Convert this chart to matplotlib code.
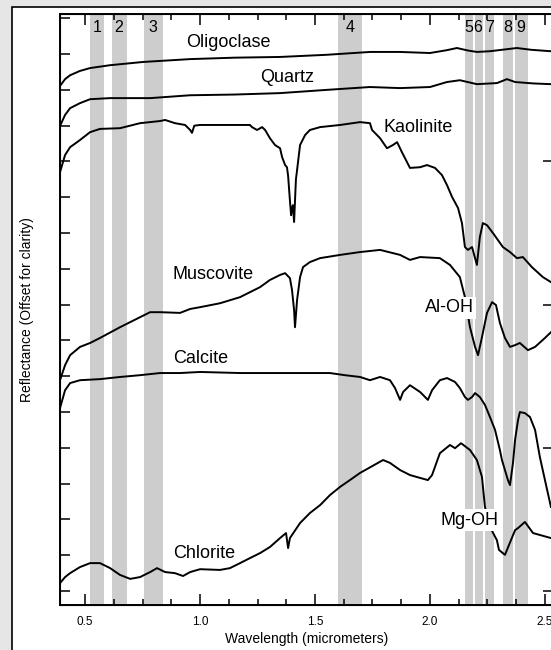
import matplotlib.pyplot as plt
from matplotlib.patches import Rectangle
from matplotlib.ticker import MultipleLocator

plt.rcParams['font.family'] = ['Liberation Sans', 'DejaVu Sans']

# band limits (micrometers) and their labels
band_lo = [0.522, 0.617, 0.757, 1.600, 2.152, 2.196, 2.239, 2.319, 2.370]
band_hi = [0.583, 0.683, 0.839, 1.704, 2.188, 2.232, 2.280, 2.362, 2.427]
band_txt = ['1', '2', '3', '4', '5', '6', '7', '8', '9']
band_txt_x = [0.552, 0.648, 0.796, 1.652, 2.170, 2.209, 2.261, 2.339, 2.396]

# spectra, offset for clarity
olig_wl = [0.391, 0.413, 0.435, 0.478, 0.522, 0.609, 0.752, 0.957, 1.15, 1.348, 1.55, 1.739,
           1.87, 2.0, 2.074, 2.117, 2.165, 2.204, 2.26, 2.3, 2.378, 2.44, 2.526]
olig_y = [14.11, 14.30, 14.41, 14.53, 14.61, 14.69, 14.78, 14.86, 14.90, 14.92, 14.98, 15.06,
          15.06, 15.03, 15.11, 15.17, 15.10, 15.06, 15.08, 15.11, 15.17, 15.12, 15.08]

qtz_wl = [0.391, 0.413, 0.435, 0.478, 0.522, 0.609, 0.783, 0.957, 1.15, 1.348, 1.55, 1.739,
          1.87, 2.0, 2.074, 2.13, 2.204, 2.291, 2.335, 2.37, 2.45, 2.526]
qtz_y = [12.99, 13.30, 13.49, 13.63, 13.74, 13.77, 13.77, 13.85, 13.87, 13.91, 14.0, 14.08,
         14.05, 14.08, 14.22, 14.27, 14.16, 14.19, 14.30, 14.22, 14.18, 14.16]

kao_wl = [0.391, 0.413, 0.435, 0.478, 0.522, 0.565, 0.652, 0.739, 0.826, 0.848, 0.891, 0.935,
          0.957, 0.965, 0.975, 1.0, 1.217, 1.226, 1.248, 1.270, 1.283, 1.304, 1.326, 1.348,
          1.357, 1.370, 1.378, 1.383, 1.391, 1.396, 1.400, 1.404, 1.409, 1.413, 1.417, 1.422,
          1.435, 1.457, 1.478, 1.522, 1.609, 1.696, 1.739, 1.748, 1.783, 1.813, 1.839, 1.857,
          1.878, 1.913, 1.957, 1.987, 2.022, 2.052, 2.074, 2.096, 2.122, 2.139, 2.152, 2.165,
          2.183, 2.204, 2.217, 2.230, 2.248, 2.274, 2.317, 2.348, 2.378, 2.404, 2.443, 2.491, 2.526]
kao_y = [11.70, 12.18, 12.40, 12.60, 12.82, 12.91, 12.93, 13.07, 13.13, 13.16, 13.07, 13.02,
         12.88, 12.80, 13.00, 13.02, 13.02, 12.96, 12.88, 12.96, 12.88, 12.65, 12.46, 12.37,
         12.12, 11.90, 11.84, 11.60, 10.90, 10.50, 10.70, 10.78, 10.31, 10.90, 11.50, 11.76,
         12.46, 12.74, 12.88, 12.96, 13.02, 13.10, 13.07, 12.88, 12.65, 12.37, 12.46, 12.54,
         12.26, 11.82, 11.84, 11.90, 11.82, 11.62, 11.34, 11.01, 10.70, 10.28, 9.61, 9.53,
         9.61, 9.11, 9.89, 10.28, 10.22, 10.00, 9.61, 9.47, 9.30, 9.33, 9.05, 8.77, 8.63]

mus_wl = [0.391, 0.413, 0.435, 0.478, 0.522, 0.565, 0.652, 0.739, 0.783, 0.826, 0.913, 0.957,
          1.0, 1.087, 1.174, 1.261, 1.304, 1.348, 1.370, 1.391, 1.400, 1.409, 1.413, 1.422,
          1.435, 1.448, 1.478, 1.522, 1.609, 1.696, 1.783, 1.870, 1.913, 1.957, 2.043, 2.087,
          2.130, 2.152, 2.174, 2.196, 2.209, 2.226, 2.248, 2.270, 2.287, 2.304, 2.326, 2.348,
          2.370, 2.391, 2.426, 2.457, 2.5, 2.526]
mus_y = [5.89, 6.31, 6.59, 6.82, 6.93, 7.07, 7.37, 7.65, 7.79, 7.79, 7.77, 7.88,
         7.93, 8.04, 8.21, 8.49, 8.69, 8.83, 8.88, 8.74, 8.41, 7.85, 7.37, 8.13,
         8.77, 9.05, 9.19, 9.30, 9.39, 9.47, 9.53, 9.39, 9.25, 9.33, 9.30, 9.11,
         8.77, 8.21, 7.37, 6.82, 6.59, 7.09, 7.77, 8.07, 7.99, 7.49, 7.07, 6.82,
         6.87, 6.93, 6.73, 6.82, 7.07, 7.23]

cal_wl = [0.391, 0.413, 0.435, 0.478, 0.565, 0.652, 0.739, 0.826, 0.913, 1.0, 1.174, 1.435,
          1.565, 1.630, 1.696, 1.739, 1.783, 1.826, 1.848, 1.870, 1.883, 1.913, 1.957, 1.991,
          2.009, 2.043, 2.074, 2.109, 2.130, 2.152, 2.165, 2.183, 2.196, 2.217, 2.239, 2.261,
          2.283, 2.304, 2.313, 2.326, 2.339, 2.348, 2.361, 2.370, 2.383, 2.391, 2.413, 2.435,
          2.457, 2.478, 2.5, 2.526]
cal_y = [5.11, 5.61, 5.81, 5.89, 5.92, 5.98, 6.03, 6.09, 6.09, 6.12, 6.09, 6.09,
         6.09, 6.03, 5.98, 5.89, 5.98, 5.89, 5.67, 5.34, 5.56, 5.75, 5.56, 5.34,
         5.61, 5.89, 5.95, 5.84, 5.67, 5.42, 5.34, 5.42, 5.53, 5.42, 5.20, 4.86,
         4.50, 3.94, 3.66, 3.38, 3.10, 2.96, 3.58, 4.22, 4.78, 5.00, 4.97, 4.86,
         4.50, 3.74, 3.10, 2.35]

chl_wl = [0.391, 0.413, 0.435, 0.478, 0.522, 0.565, 0.609, 0.652, 0.696, 0.739, 0.783, 0.813,
          0.848, 0.891, 0.926, 0.957, 1.0, 1.087, 1.130, 1.174, 1.217, 1.261, 1.304, 1.348,
          1.374, 1.383, 1.391, 1.435, 1.478, 1.522, 1.565, 1.609, 1.652, 1.696, 1.735, 1.796,
          1.826, 1.870, 1.913, 1.957, 1.991, 2.009, 2.043, 2.087, 2.109, 2.135, 2.174, 2.204,
          2.226, 2.239, 2.26, 2.291, 2.300, 2.326, 2.370, 2.383, 2.413, 2.448, 2.526]
chl_y = [0.22, 0.39, 0.50, 0.67, 0.78, 0.78, 0.64, 0.45, 0.34, 0.39, 0.53, 0.64,
         0.53, 0.50, 0.42, 0.53, 0.61, 0.59, 0.64, 0.78, 0.92, 1.06, 1.23, 1.48,
         1.62, 1.20, 1.48, 1.90, 2.18, 2.40, 2.68, 2.91, 3.10, 3.30, 3.44, 3.66,
         3.58, 3.38, 3.24, 3.16, 3.10, 3.24, 3.85, 4.08, 3.99, 4.13, 3.94, 3.66,
         3.19, 2.35, 1.80, 1.42, 1.15, 1.01, 1.70, 1.76, 1.93, 1.62, 1.48]

spectra = [(olig_wl, olig_y), (qtz_wl, qtz_y), (kao_wl, kao_y), (mus_wl, mus_y),
           (cal_wl, cal_y), (chl_wl, chl_y)]

# label text and where it sits (wavelength, offset reflectance)
names = ['Oligoclase', 'Quartz', 'Kaolinite', 'Muscovite', 'Calcite', 'Chlorite']
names_x = [1.122, 1.378, 1.948, 1.057, 1.004, 1.020]
names_y = [15.31, 14.36, 12.96, 8.83, 6.51, 1.06]
feat = ['Al-OH', 'Mg-OH']
feat_x = [2.083, 2.170]
feat_y = [7.91, 1.98]

fig = plt.figure(figsize=(5.51, 6.5), dpi=100, facecolor='#e6e6e6')
# white panel with a black frame, running off the right and bottom edges
panel = Rectangle((12 / 551, -0.1), 1.1, 1.1 - 7 / 650, transform=fig.transFigure,
                  facecolor='white', edgecolor='black', lw=1.2, zorder=-10)
fig.patches.append(panel)

ax = fig.add_axes([60 / 551, 45 / 650, 493 / 551, 591 / 650])
ax.set_xlim(0.391, 2.535)
ax.set_ylim(-0.39, 16.12)

for lo, hi in zip(band_lo, band_hi):
    ax.axvspan(lo, hi, color='#cdcdcd', lw=0, zorder=1)
for t, x in zip(band_txt, band_txt_x):
    ax.text(x, 15.73, t, ha='center', va='center', fontsize=11.5, zorder=3)

for wl, y in spectra:
    ax.plot(wl, y, color='black', lw=1.4, zorder=2)

for t, x, y in zip(names, names_x, names_y):
    ax.text(x, y, t, ha='center', va='center', fontsize=13, zorder=3)
for t, x, y in zip(feat, feat_x, feat_y):
    ax.text(x, y, t, ha='center', va='center', fontsize=13, zorder=4,
            bbox=dict(facecolor='white', edgecolor='none', pad=1.5))

ax.xaxis.set_minor_locator(MultipleLocator(0.125))
ax.set_xticks([0.5, 1.0, 1.5, 2.0, 2.5])
ax.set_xticklabels(['0.5', '1.0', '1.5', '2.0', '2.5'])
ax.set_yticks(range(0, 17))
ax.set_yticklabels([])
ax.tick_params(axis='x', which='major', direction='in', top=True, length=8, width=1.1,
               labelsize=8.5, pad=8)
ax.tick_params(axis='x', which='minor', direction='in', top=True, length=4, width=1.1)
ax.tick_params(axis='y', direction='in', length=7, width=1.1)
for s in ax.spines.values():
    s.set_linewidth(1.4)

ax2 = ax.twinx()
ax2.set_ylim(ax.get_ylim())
ax2.set_yticks([0, 4, 8, 12])
ax2.set_yticklabels([])
ax2.tick_params(axis='y', direction='in', length=7, width=1.1)

ax.set_xlabel('Wavelength (micrometers)', fontsize=10, labelpad=3)
ax.set_ylabel('Reflectance (Offset for clarity)', fontsize=10, labelpad=15)

fig.savefig('out.png', dpi=100, facecolor=fig.get_facecolor())
